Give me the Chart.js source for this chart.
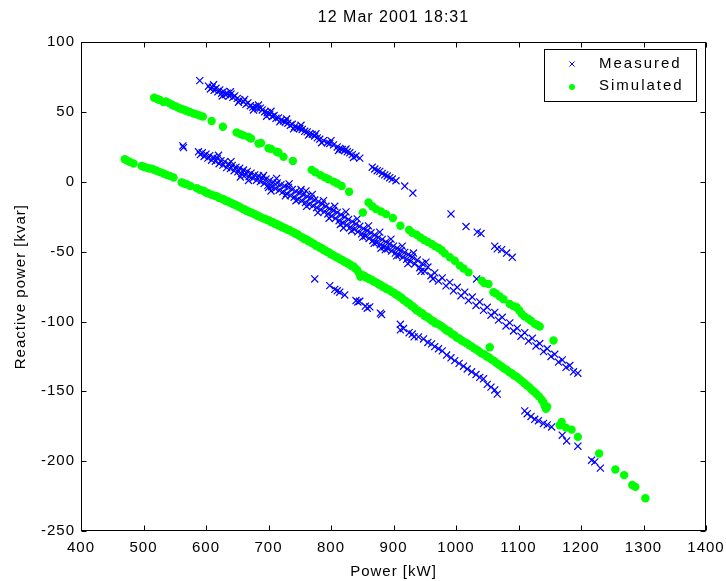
<!DOCTYPE html>
<html><head><meta charset="utf-8">
<script src="https://cdn.jsdelivr.net/npm/chart.js@4/dist/chart.umd.min.js"></script>
<style>html,body{margin:0;padding:0;background:#fff}#wrap{width:726px;height:581px;position:relative}</style>
</head><body><div id="wrap"><canvas id="c" width="726" height="581"></canvas></div>
<script>
const chartTitle = '12 Mar 2001 18:31';
const xLabel = 'Power [kW]';
const yLabel = 'Reactive power [kvar]';
const seriesNames = ['Measured', 'Simulated'];
const xTicks = [400, 500, 600, 700, 800, 900, 1000, 1100, 1200, 1300, 1400];
const yTicks = [100, 50, 0, -50, -100, -150, -200, -250];

// Measured, upper branch [kW, kvar]
const measuredUpper = [
 [590,72.5],[604,68.5],[607,66.5],[610,67.8],[613,65.5],[616,67],[619,64.5],[622,65.8],[625,63.5],[628,64.8],
 [631,62.5],[634,63.5],[637,61.5],[640,62.8],[643,60.5],[646,61.5],[650,59.8],[654,58.5],[660,57.5],[664,55.5],
 [667,56.5],[671,54.5],[675,53.5],[679,54],[683,52.5],[687,52.8],[690,51.5],[694,50.2],[698,49.5],[702,48.5],
 [706,46.8],[709,47.5],[712,45.5],[716,45.8],[720,44.2],[724,43.5],[727,42.8],[731,42],[735,40.5],[738,41.2],
 [742,39.5],[746,38.8],[750,38.2],[754,37.5],[758,36.2],[762,35.8],[766,34.5],[770,34],[774,32.8],[778,31.5],
 [782,30.5],[788,29.5],[794,28],[798,27.5],[804,26.5],[810,25],[814,24],[818,23.2],[822,22.5],[826,21.5],
 [830,20.8],[834,19.5],[840,18.5],[846,17],[866,10.5],[870,9.2],[874,8],[878,7.5],[882,6],[886,5],
 [890,4.2],[894,3],[898,2],[904,0.8],[918,-3],[931,-8],
 [612,69.5],[626,61.5],[639,64.5],[652,57],[662,59],[676,51.5],[684,55],[697,47],[704,50.5],[718,43],
 [729,45],[740,38],[752,40.5],[764,33.5],[776,34.5],[785,28],[800,29.5],[812,22.5],[824,23.5],[836,17.5],
 [992,-23],[1016,-32],[1034,-36],[1040,-37],[1062,-46],[1066,-48],[1073,-48.5],[1081,-51],[1090,-54],[1033,-69.5]
];
// Measured, middle branch
const measuredMiddle = [
 [563,25.7],[564,24.5],
 [588,21.5],[591,19.5],[594,20.8],[597,18.2],[600,19.8],[603,17],[606,18.8],[609,15.5],[612,17.5],[615,14.8],
 [618,16.8],[621,13],[624,15.2],[627,12],[630,14.5],[633,10.2],[636,12.8],[639,9.5],[642,11.8],[645,8],
 [648,10.5],[651,7.2],[654,9.8],[657,5.8],[660,8.5],[663,5],[666,7.5],[669,3.8],[672,6.2],[675,2.5],
 [678,5],[681,1.2],[684,4.2],[687,0.2],[690,3],[693,-1.2],[696,2],[699,-2.5],[702,1],[705,-3.5],
 [708,-0.2],[711,-4.8],[714,-0.8],[717,-6],[720,-2],[723,-7.2],[726,-3],[729,-8.5],[732,-4],[735,-9.8],
 [738,-5.5],[741,-11],[744,-6.8],[747,-12.5],[750,-8],[753,-13.5],[756,-9.2],[759,-14.8],[762,-10.5],[765,-16],
 [768,-11.8],[771,-17.2],[774,-13],[777,-18.5],[780,-14.2],[783,-20],[786,-15.8],[789,-21.5],[792,-17.5],[795,-23],
 [798,-19.2],[801,-24.5],[804,-20.5],[807,-26.2],[810,-22],[813,-27.8],[816,-23.5],[819,-29.5],[822,-25.2],[825,-31],
 [828,-27],[831,-32.5],[834,-28.5],[837,-34],[840,-30.2],[843,-35.8],[846,-31.8],[849,-37.2],[852,-33.5],[855,-38.8],
 [858,-35],[861,-40.5],[864,-36.5],[867,-42],[870,-38],[873,-43.5],[876,-39.8],[879,-45],[882,-41.2],[885,-46.5],
 [888,-43],[891,-48],[894,-44.5],[897,-49.5],[900,-46],[903,-51],[906,-47.5],[909,-52.5],[912,-49.2],[915,-54],
 [918,-50.5],[921,-55.5],[924,-52],[927,-57],[930,-53.8],[934,-58.8],[938,-56],[942,-61.5],[946,-58.5],[950,-64],
 [955,-61],[960,-67.2],[966,-65.2],[972,-71],[978,-68.8],[984,-74.5],[990,-72],[996,-78],[1002,-75.5],[1008,-81.5],
 [1014,-79],[1020,-85],[1026,-82.5],[1032,-88.5],[1038,-86],[1044,-92],[1050,-89.8],[1056,-95.5],[1062,-93.5],[1068,-99],
 [1074,-97],[1080,-103.2],[1086,-101],[1092,-106.8],[1098,-104.8],[1104,-110.5],[1110,-108],[1116,-114],[1122,-112],[1128,-117.5],
 [1134,-115.8],[1140,-121.5],[1146,-119.5],[1152,-125],[1158,-123.5],[1164,-129],[1170,-127.5],[1176,-132.8],[1182,-131.5],[1188,-136],
 [1195,-137],
 [620,19],[640,14.5],[655,3.5],[668,1],[692,4.5],[700,-4],[704,-6.5],[713,2.5],[727,-10],[733,-1.5],
 [744,-13.5],[752,-5.5],[760,-6.5],[761,-17.5],[770,-9],[779,-22],[788,-13.5],[797,-26],[806,-17.5],[815,-30.5],
 [820,-33],[824,-21.5],[833,-35],[842,-26.5],[851,-39.5],[860,-31.5],[869,-44],[878,-36],[880,-47.5],[887,-48.5],
 [896,-41],[905,-53],[914,-46],[923,-58.5],[932,-51],[944,-64],[952,-57.5],[963,-69.5]
];
// Measured, lower branch
const measuredLower = [
 [774,-69.5],[798,-74.3],[806,-77],[810,-78],[814,-79],[822,-81],[840,-85],[843,-86],[846,-85.5],[855,-89],
 [858,-90.5],[862,-89.5],[879,-94],[881,-95],[911,-102],[911,-106],[916,-105],[925,-108],[930,-109],[933,-111],
 [940,-111],[948,-112.5],[955,-115],[961,-116],[966,-118],[972,-119.5],[978,-121],[985,-124],[992,-126],[998,-128],
 [1005,-130],[1012,-132],[1018,-134],[1025,-136],[1032,-138],[1038,-140],[1044,-141],[1050,-145],[1056,-147],[1062,-149],
 [1066,-152],[1110,-164],[1114,-166],[1120,-168],[1126,-170],[1132,-171],[1140,-173],[1146,-174],[1153,-175.5],[1170,-181.4],
 [1177,-185.5],[1195,-189.3],[1217,-199.3],[1222,-200.5],[1231,-205]
];
// Simulated, upper branch
const simulatedUpper = [
 [517,60.2],[523,59.2],[526,58.6],[532,57.1],[536,57.5],[542,56.2],[546,55],[550,54.3],[554,53.5],[558,52.6],
 [562,52],[566,51.4],[570,50.6],[574,50],[580,49],[585,48.3],[590,47.5],[595,46.7],[609,43.6],[627,39.5],
 [649,35.3],[655,34.2],[660,33.3],[668,32.1],[672,31],[684,27.4],[688,27.8],[700,24.1],[704,23.6],[713,21.6],
 [716,21],[724,17.9],[739,15],[769,8.6],[775,6.8],[783,4.8],[790,3.2],[796,1.9],[804,0.2],[810,-1.2],
 [817,-2.9],[829,-7.1],[851,-21.9],[860,-14.8],[866,-17.5],[872,-19.5],[880,-21.2],[888,-23.1],[899,-25.9],[911,-31.4],
 [925,-34.5],[930,-36.5],[937,-37.9],[943,-39.8],[949,-41.6],[955,-43],[961,-44.5],[966,-46],[972,-47.4],[977,-49],
 [982,-51.2],[990,-54],[998,-56.5],[1006,-60],[1012,-62],[1020,-64.8],[1041,-70.7],[1045,-72.5],[1052,-73.1],[1060,-79],
 [1064,-80],[1070,-82.1],[1076,-84],[1086,-87.4],[1092,-89],[1097,-89.8],[1101,-92],[1105,-94.5],[1110,-96.5],[1116,-98.1],
 [1120,-99.5],[1126,-101.7],[1130,-102.5],[1134,-103.6],[1156,-113.6]
];
// Simulated, lower branch
const simulatedLower = [
 [470,16.2],[474,15.2],[478,14.3],[484,13.1],[497,11.4],[501,10.6],[505,10.2],[509,9.6],[513,9.5],[517,8.6],
 [521,7.9],[526,7],[532,6],[537,5],[542,4.3],[548,3.1],[561,-0.5],[565,-1.2],[569,-1.7],[575,-2.9],
 [585,-4.5],[590,-5.6],[596,-6.4],[600,-7.6],[604,-8.3],[609,-9.3],[614,-10],[618,-10.5],[621,-11.6],[625,-12],
 [628,-12.4],[631,-13.5],[635,-13.9],[638,-14.8],[641,-15.2],[644,-16.1],[647,-16.4],[650,-17.2],[653,-17.8],[656,-18.6],
 [659,-19.5],[662,-19.8],[665,-20.8],[668,-21.2],[671,-21.9],[674,-22.2],[677,-23.1],[680,-23.5],[683,-24.5],[686,-24.9],
 [689,-25.6],[692,-26.3],[695,-26.5],[698,-27.4],[701,-27.6],[704,-28.8],[707,-28.9],[710,-30],[713,-30.2],[716,-31.2],
 [719,-31.4],[722,-32.6],[725,-32.8],[728,-33.6],[731,-34.3],[734,-34.6],[737,-35.6],[740,-36],[743,-37.1],[746,-37.4],
 [749,-38.5],[752,-39.4],[755,-40],[758,-41.1],[761,-41.2],[764,-42.5],[767,-42.8],[770,-44],[773,-44.4],[776,-45.7],
 [779,-46],[782,-47.2],[785,-47.3],[788,-48.8],[791,-49.2],[794,-50.2],[797,-50.6],[800,-51.8],[803,-52.4],[806,-53.2],
 [809,-54],[812,-54.6],[815,-55.5],[818,-56],[821,-57],[824,-57.6],[827,-58.5],[830,-59],[833,-60.2],[836,-60.6],
 [839,-62],[842,-63.2],[845,-65.5],[847,-68],[850,-66.8],[853,-67.2],[856,-68.5],[859,-68.8],[862,-69.8],[865,-70],
 [868,-71.2],[871,-71.8],[874,-72.5],[877,-73.5],[880,-74],[883,-75.2],[886,-75.6],[889,-76.8],[892,-77],[895,-78],
 [898,-78.8],[901,-79.6],[904,-80.6],[907,-81.2],[910,-82.4],[913,-83],[916,-84.6],[919,-85.2],[922,-86.5],[925,-87],
 [928,-88.5],[931,-89.2],[934,-90.5],[937,-92],[940,-92.4],[943,-93.8],[946,-94],[949,-95.6],[952,-96.5],[955,-97],
 [958,-98.2],[961,-99.3],[964,-99.8],[967,-101.2],[970,-101.5],[974,-102.6],[978,-103.8],[982,-105.2],[985,-106.4],[989,-107],
 [993,-108.8],[997,-109.6],[1001,-111.5],[1005,-112.2],[1009,-113.6],[1013,-114.6],[1017,-115.6],[1021,-116.8],[1025,-117.8],[1029,-119.2],
 [1033,-120.2],[1037,-121.5],[1041,-122.8],[1045,-123.5],[1049,-125],[1053,-125.8],[1057,-127.3],[1061,-128.2],[1065,-129.8],[1069,-131],
 [1073,-132.2],[1077,-133.6],[1081,-134.6],[1085,-136.2],[1089,-137],[1093,-138.6],[1097,-139.6],[1101,-141],[1105,-142.5],[1109,-144],
 [1113,-145.6],[1117,-147],[1121,-148.8],[1125,-150.2],[1129,-152],[1133,-153.8],[1137,-156],[1140,-158],[1142,-160.5],[1144,-162.5],
 [1146,-161],[1054,-118.4],[1166,-174.3],[1169,-171.9],[1176,-176],[1185,-177.4],[1195,-182.6],[1229,-194.5],[1255,-206],[1269,-210],
 [1282,-217],[1287,-218.4],[1303,-226.6]
];

const toPts = arr => arr.map(p => ({x: p[0], y: p[1]}));
const FONT = 'Arial, "Liberation Sans", sans-serif';
Chart.defaults.font.family = FONT;
Chart.defaults.color = '#000';

const frame = {
  id: 'frame',
  beforeDraw(chart) { chart.ctx.letterSpacing = '1px'; },
  afterDatasetsDraw(chart) {
    const {ctx, chartArea: a, scales} = chart;
    ctx.save();
    ctx.letterSpacing = '0px';
    ctx.strokeStyle = '#000';
    ctx.lineWidth = 1;
    const L = Math.round(a.left) + 0.5, R = Math.round(a.right) - 0.5;
    const T = Math.round(a.top) + 0.5, B = Math.round(a.bottom) - 0.5;
    ctx.strokeRect(L, T, R - L, B - T);
    const tl = 5;
    ctx.beginPath();
    scales.x.ticks.forEach(t => {
      const px = Math.round(scales.x.getPixelForValue(t.value)) + 0.5;
      ctx.moveTo(px, B); ctx.lineTo(px, B - tl);
      ctx.moveTo(px, T); ctx.lineTo(px, T + tl);
    });
    scales.y.ticks.forEach(t => {
      const py = Math.round(scales.y.getPixelForValue(t.value)) + 0.5;
      ctx.moveTo(L, py); ctx.lineTo(L + tl, py);
      ctx.moveTo(R, py); ctx.lineTo(R - tl, py);
    });
    ctx.stroke();
    ctx.restore();
  },
  afterDraw(chart) {
    const ctx = chart.ctx;
    const bx = 544.5, by = 49.5, bw = 152, bh = 52;
    ctx.save();
    ctx.fillStyle = '#fff';
    ctx.fillRect(bx, by, bw, bh);
    ctx.strokeStyle = '#000';
    ctx.lineWidth = 1;
    ctx.strokeRect(bx, by, bw, bh);
    const ds = chart.data.datasets;
    const rows = [64, 86];
    ds.forEach((d, i) => {
      const y = rows[i];
      const mx = 572;
      if (d.pointStyle === 'crossRot') {
        ctx.strokeStyle = d.borderColor; ctx.lineWidth = 1;
        ctx.beginPath();
        ctx.moveTo(mx - 2.5, y - 2.5); ctx.lineTo(mx + 2.5, y + 2.5);
        ctx.moveTo(mx + 2.5, y - 2.5); ctx.lineTo(mx - 2.5, y + 2.5);
        ctx.stroke();
      } else {
        ctx.fillStyle = d.backgroundColor;
        ctx.beginPath(); ctx.arc(mx, y + 1, 3, 0, Math.PI * 2); ctx.fill();
      }
      ctx.fillStyle = '#000';
      ctx.font = '15px ' + FONT;
      ctx.letterSpacing = '2px';
      ctx.textBaseline = 'middle';
      ctx.textAlign = 'left';
      ctx.fillText(d.label, 599, y);
    });
    ctx.restore();
  }
};

new Chart(document.getElementById('c'), {
  type: 'scatter',
  data: {
    datasets: [
      {
        label: seriesNames[0],
        data: toPts([].concat(measuredUpper, measuredMiddle, measuredLower)),
        pointStyle: 'crossRot', pointRadius: 5, pointBorderWidth: 1.2,
        borderColor: '#0000ff', backgroundColor: '#0000ff', order: 2
      },
      {
        label: seriesNames[1],
        data: toPts([].concat(simulatedUpper, simulatedLower)),
        pointStyle: 'circle', pointRadius: 4.2, pointBorderWidth: 0,
        borderColor: '#00ff00', backgroundColor: '#00ff00', order: 1
      }
    ]
  },
  options: {
    responsive: false, animation: false, devicePixelRatio: 1,
    layout: { padding: { left: 0, right: 20, top: 0, bottom: 0 } },
    plugins: {
      legend: { display: false },
      tooltip: { enabled: false },
      title: {
        display: true, text: chartTitle, fullSize: false,
        font: { size: 16, weight: 'normal', family: FONT }, color: '#000',
        padding: { top: 8, bottom: 15 }
      }
    },
    scales: {
      x: {
        type: 'linear', min: 400, max: 1400,
        afterBuildTicks: s => { s.ticks = xTicks.map(v => ({ value: v })); },
        afterFit: s => { s.height = 50; s.paddingLeft = 0; s.paddingRight = 0; },
        ticks: { font: { size: 15 }, color: '#000', padding: 8, maxRotation: 0, autoSkip: false, callback: v => String(v) },
        grid: { display: false, drawTicks: false },
        border: { display: false },
        title: { display: true, text: xLabel, font: { size: 15 }, color: '#000', padding: { top: 0, bottom: 0 } }
      },
      y: {
        type: 'linear', min: -250, max: 100,
        afterBuildTicks: s => { s.ticks = yTicks.map(v => ({ value: v })); },
        afterFit: s => { s.width = 81; s.paddingTop = 0; s.paddingBottom = 0; },
        ticks: { font: { size: 15 }, color: '#000', padding: 6, autoSkip: false, callback: v => String(v) },
        grid: { display: false, drawTicks: false },
        border: { display: false },
        title: { display: true, text: yLabel, font: { size: 15 }, color: '#000', padding: { top: 12, bottom: 0 } }
      }
    }
  },
  plugins: [frame]
});
</script>
</body></html>
